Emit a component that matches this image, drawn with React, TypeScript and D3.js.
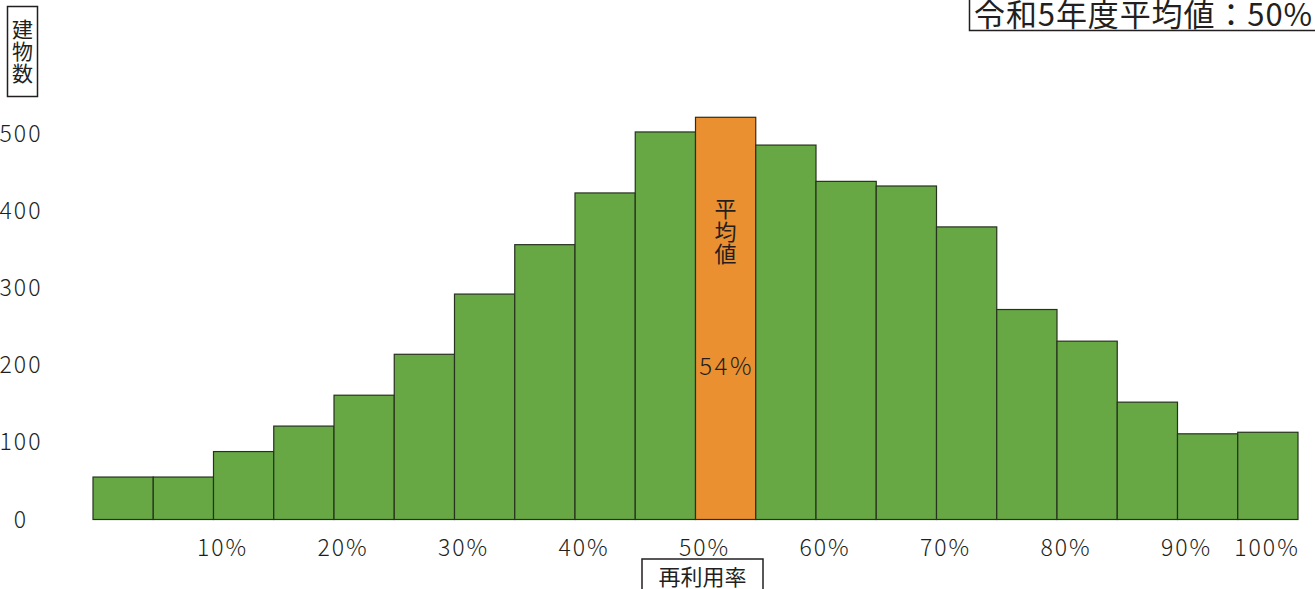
import React from "react";
import * as d3 from "d3";

// Histogram of building counts by reuse rate (5% bins from 0% to 100%)
const binStarts = [0, 5, 10, 15, 20, 25, 30, 35, 40, 45, 50, 55, 60, 65, 70, 75, 80, 85, 90, 95];
const counts = [55, 55, 88, 121, 161, 214, 292, 356, 423, 502, 521, 485, 438, 432, 379, 272, 231, 152, 111, 113];
const highlightBin = 50;
const yTicks = [0, 100, 200, 300, 400, 500];
const xTicks = [10, 20, 30, 40, 50, 60, 70, 80, 90, 100];
const xTickLabels = ["10%", "20%", "30%", "40%", "50%", "60%", "70%", "80%", "90%", "100%"];
const yTitle = ["建", "物", "数"];
const xTitle = "再利用率";
const headline = "令和5年度平均値：50%";
const meanTitle = ["平", "均", "値"];
const meanLabel = "54%";

const W = 1315;
const H = 589;
const GREEN = "#67a844";
const ORANGE = "#ea9030";
const INK = "#231f20";
const FONT = "'Noto Sans CJK JP', 'Noto Sans', sans-serif";

export default function App() {
  const x = d3.scaleLinear().domain([0, 100]).range([93, 1298]);
  const y = d3.scaleLinear().domain([0, 500]).range([519.5, 133.5]);
  const binW = 5;
  const meanX = x(highlightBin + binW / 2);

  return (
    <svg
      width={W}
      height={H}
      style={{ position: "absolute", left: 0, top: 0, background: "#fff" }}
      fontFamily={FONT}
    >
      {/* bars */}
      {binStarts.map((b, i) => (
        <rect
          key={b}
          x={x(b)}
          y={y(counts[i])}
          width={x(b + binW) - x(b)}
          height={y(0) - y(counts[i])}
          fill={b === highlightBin ? ORANGE : GREEN}
          stroke="#27321f"
          strokeWidth={1.2}
        />
      ))}

      {/* y tick labels */}
      {yTicks.map((t) => (
        <text
          key={t}
          x={21}
          y={y(t) - 2}
          textAnchor="middle"
          dominantBaseline="central"
          fontSize={23}
          letterSpacing={2}
          fill={INK}
          fontWeight={300}
        >
          {t}
        </text>
      ))}

      {/* x tick labels */}
      {xTicks.map((t, i) => (
        <text
          key={t}
          x={t === 100 ? x(t) - 31 : x(t) + 9}
          y={546}
          textAnchor="middle"
          dominantBaseline="central"
          fontSize={23}
          letterSpacing={2}
          fill={INK}
          fontWeight={300}
        >
          {xTickLabels[i]}
        </text>
      ))}

      {/* y axis title box */}
      <rect x={7.5} y={6.5} width={30} height={90} fill="none" stroke={INK} strokeWidth={1.5} />
      {yTitle.map((c, i) => (
        <text
          key={c}
          x={22.5}
          y={28 + i * 22}
          textAnchor="middle"
          dominantBaseline="central"
          fontSize={21}
          fill={INK}
        >
          {c}
        </text>
      ))}

      {/* x axis title box */}
      <rect x={642} y={559} width={121} height={40} fill="#fff" stroke={INK} strokeWidth={1.5} />
      <text
        x={702.5}
        y={575}
        textAnchor="middle"
        dominantBaseline="central"
        fontSize={22}
        fill={INK}
      >
        {xTitle}
      </text>

      {/* headline box */}
      <path d="M969.5,-2 V30.5 H1320" fill="none" stroke={INK} strokeWidth={1.5} />
      <text
        x={974}
        y={12}
        dominantBaseline="central"
        fontSize={31}
        letterSpacing={0.9}
        fill={INK}
      >
        {headline}
      </text>

      {/* mean annotation inside the highlighted bar */}
      {meanTitle.map((c, i) => (
        <text
          key={c}
          x={meanX}
          y={207 + i * 22.5}
          textAnchor="middle"
          dominantBaseline="central"
          fontSize={22}
          fill={INK}
        >
          {c}
        </text>
      ))}
      <text
        x={meanX + 1}
        y={364}
        textAnchor="middle"
        dominantBaseline="central"
        fontSize={24}
        letterSpacing={2.5}
        fill={INK}
        fontWeight={300}
      >
        {meanLabel}
      </text>
    </svg>
  );
}
